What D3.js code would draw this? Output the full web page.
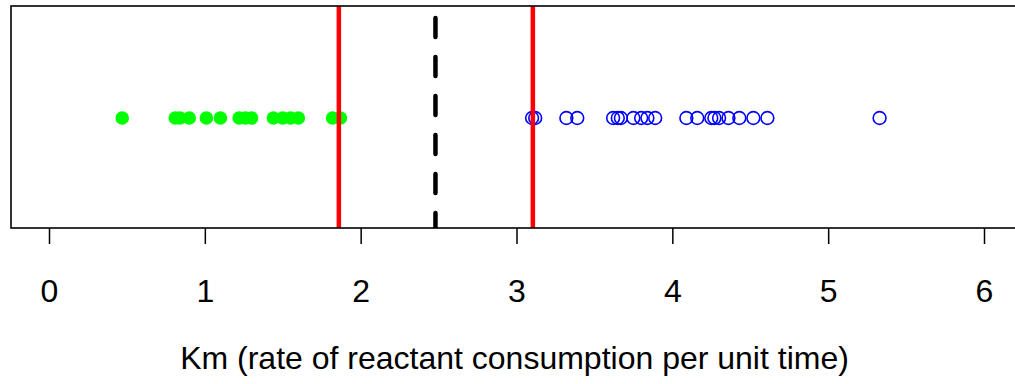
<!DOCTYPE html>
<html><head><meta charset="utf-8">
<script src="https://cdn.jsdelivr.net/npm/d3@7"></script>
<style>body{margin:0;background:#fff}svg{display:block}</style>
</head><body>
<script>
const greenValues = [0.47, 0.81, 0.84, 0.90, 1.01, 1.10, 1.22, 1.26, 1.30, 1.44, 1.50, 1.55, 1.60, 1.82, 1.87];
const blueValues = [3.10, 3.12, 3.32, 3.39, 3.62, 3.65, 3.67, 3.75, 3.80, 3.84, 3.89, 4.09, 4.16, 4.25, 4.27, 4.30, 4.36, 4.43, 4.52, 4.61, 5.33];
const redLines = [1.86, 3.105];
const blackDashed = [2.48];
const tickValues = [0, 1, 2, 3, 4, 5, 6];
const xTitle = "Km (rate of reactant consumption per unit time)";

const W = 1015, H = 384;
const plot = {left: 11, top: 6, right: 1030, bottom: 228};
const x = d3.scaleLinear().domain([0, 6]).range([49, 984]);
const yMid = 118;
const font = "Liberation Sans, Arial, sans-serif";

const svg = d3.select("body").append("svg").attr("width", W).attr("height", H);
svg.append("defs").append("clipPath").attr("id", "clip")
  .append("rect").attr("x", plot.left).attr("y", plot.top)
  .attr("width", plot.right - plot.left).attr("height", plot.bottom - plot.top);

const g = svg.append("g").attr("clip-path", "url(#clip)");

g.selectAll("circle.g").data(greenValues).join("circle")
  .attr("cx", d => x(d)).attr("cy", yMid).attr("r", 6.8).attr("fill", "#00ff00");
g.selectAll("circle.b").data(blueValues).join("circle")
  .attr("cx", d => x(d)).attr("cy", yMid).attr("r", 6.4)
  .attr("fill", "none").attr("stroke", "#0000ff").attr("stroke-width", 1.6);

g.selectAll("line.red").data(redLines).join("line")
  .attr("x1", d => x(d)).attr("x2", d => x(d)).attr("y1", plot.top).attr("y2", plot.bottom)
  .attr("stroke", "#ff0000").attr("stroke-width", 4.5);

g.selectAll("line.blk").data(blackDashed).join("line")
  .attr("x1", d => x(d)).attr("x2", d => x(d)).attr("y1", plot.top).attr("y2", plot.bottom)
  .attr("stroke", "#000").attr("stroke-width", 4.5).attr("stroke-linecap", "round")
  .attr("stroke-dasharray", "19,20").attr("stroke-dashoffset", 27);

svg.append("rect").attr("x", plot.left).attr("y", plot.top)
  .attr("width", plot.right - plot.left).attr("height", plot.bottom - plot.top)
  .attr("fill", "none").attr("stroke", "#000").attr("stroke-width", 1.6);

const axis = d3.axisBottom(x).tickValues(tickValues).tickFormat(d3.format("d"))
  .tickSize(16).tickPadding(35);
const ax = svg.append("g").attr("transform", `translate(0,${plot.bottom})`).call(axis);
ax.select(".domain").remove();
ax.selectAll(".tick line").attr("stroke", "#000").attr("stroke-width", 1.5);
ax.selectAll(".tick text").attr("font-family", font)
  .attr("font-size", 32).attr("fill", "#000");

svg.append("text").attr("x", (181 + 848) / 2).attr("y", 369)
  .attr("text-anchor", "middle").attr("font-family", font)
  .attr("font-size", 32).attr("fill", "#000").text(xTitle);
</script>
</body></html>
